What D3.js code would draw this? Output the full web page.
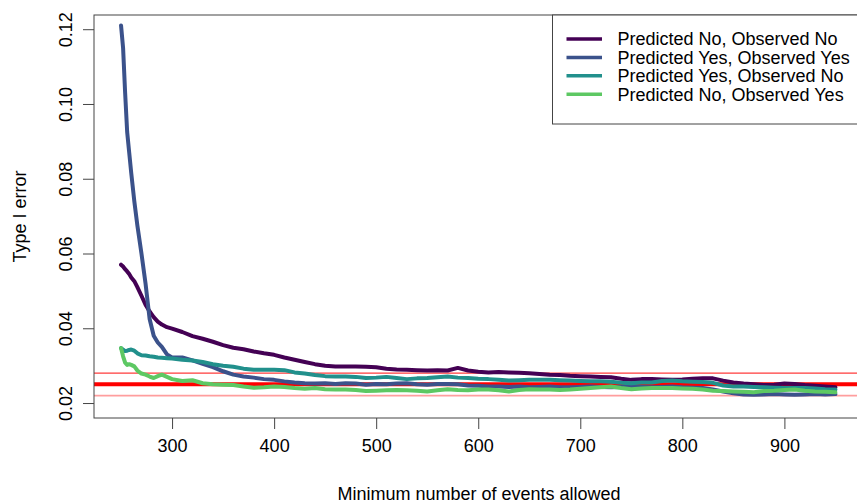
<!DOCTYPE html>
<html>
<head>
<meta charset="utf-8">
<script src="https://cdn.jsdelivr.net/npm/d3@7"></script>
<style>
  html, body { margin: 0; padding: 0; background: #fff; }
  svg { display: block; font-family: "Liberation Sans", Arial, sans-serif; }
</style>
</head>
<body>
<svg id="chart" width="857" height="503"></svg>
<script>
// Minimum number of events allowed (shared x grid)
const events = [250,252,254,256,258,260,263,266,270,274,278,282,286,290,295,300,
  310,320,330,340,350,360,370,380,390,400,410,420,430,440,450,460,470,480,490,500,
  510,520,530,540,550,560,570,580,590,600,610,620,630,640,650,660,670,680,690,700,
  710,720,730,740,750,760,770,780,790,800,810,820,830,840,850,860,870,880,890,900,
  910,920,930,940,950];

// Type I error per confusion-matrix cell
const predNoObsNo = [0.0570,0.0565,0.0558,0.0552,0.0545,0.0536,0.0526,0.0510,0.0487,0.0463,0.0445,0.0430,0.0418,0.0410,0.0403,0.0399,
  0.0390,0.0379,0.0372,0.0364,0.0355,0.0348,0.0344,0.0338,0.0333,0.0329,0.0322,0.0316,0.0310,0.0304,0.0300,0.0298,0.0298,0.0298,0.0297,0.0296,
  0.0292,0.0290,0.0289,0.0288,0.0287,0.0288,0.0287,0.0294,0.0287,0.0284,0.0282,0.0283,0.0282,0.0281,0.0280,0.0278,0.0276,0.0275,0.0273,0.0272,
  0.0271,0.0270,0.0269,0.0265,0.0262,0.0264,0.0264,0.0263,0.0262,0.0263,0.0265,0.0266,0.0266,0.0260,0.0255,0.0252,0.0250,0.0248,0.0249,0.0252,
  0.0251,0.0248,0.0246,0.0244,0.0242];

const predYesObsYes = [0.1210,0.1150,0.1030,0.0925,0.0870,0.0815,0.0740,0.0675,0.0600,0.0520,0.0425,0.0380,0.0362,0.0350,0.0330,0.0322,
  0.0322,0.0314,0.0305,0.0296,0.0285,0.0276,0.0271,0.0268,0.0264,0.0262,0.0258,0.0255,0.0253,0.0252,0.0253,0.0251,0.0253,0.0252,0.0249,0.0251,
  0.0250,0.0252,0.0253,0.0250,0.0249,0.0251,0.0251,0.0250,0.0247,0.0246,0.0244,0.0244,0.0243,0.0244,0.0242,0.0243,0.0244,0.0242,0.0242,0.0243,
  0.0244,0.0243,0.0242,0.0243,0.0244,0.0243,0.0242,0.0243,0.0244,0.0242,0.0241,0.0240,0.0236,0.0231,0.0226,0.0223,0.0222,0.0223,0.0224,0.0223,
  0.0222,0.0223,0.0224,0.0223,0.0224];

const predYesObsNo = [0.0347,0.0343,0.0339,0.0340,0.0342,0.0343,0.0340,0.0333,0.0328,0.0327,0.0325,0.0324,0.0322,0.0321,0.0320,0.0319,
  0.0316,0.0314,0.0310,0.0304,0.0300,0.0297,0.0292,0.0289,0.0289,0.0289,0.0288,0.0282,0.0279,0.0275,0.0272,0.0271,0.0271,0.0270,0.0267,0.0268,
  0.0270,0.0267,0.0264,0.0266,0.0267,0.0269,0.0271,0.0268,0.0267,0.0265,0.0264,0.0262,0.0260,0.0261,0.0262,0.0262,0.0262,0.0261,0.0260,0.0259,
  0.0258,0.0258,0.0257,0.0254,0.0253,0.0255,0.0255,0.0259,0.0260,0.0258,0.0257,0.0256,0.0254,0.0247,0.0244,0.0244,0.0243,0.0242,0.0241,0.0240,
  0.0240,0.0240,0.0239,0.0237,0.0236];

const predNoObsYes = [0.0347,0.0325,0.0308,0.0302,0.0304,0.0302,0.0298,0.0287,0.0279,0.0276,0.0271,0.0267,0.0272,0.0276,0.0270,0.0264,
  0.0259,0.0261,0.0253,0.0250,0.0249,0.0248,0.0244,0.0241,0.0242,0.0244,0.0243,0.0240,0.0238,0.0240,0.0237,0.0236,0.0236,0.0235,0.0232,0.0233,
  0.0234,0.0235,0.0234,0.0233,0.0231,0.0234,0.0237,0.0235,0.0234,0.0236,0.0236,0.0234,0.0231,0.0235,0.0237,0.0236,0.0236,0.0235,0.0236,0.0238,
  0.0240,0.0242,0.0244,0.0240,0.0237,0.0239,0.0240,0.0240,0.0240,0.0239,0.0238,0.0236,0.0233,0.0232,0.0231,0.0230,0.0229,0.0232,0.0233,0.0235,
  0.0236,0.0233,0.0231,0.0230,0.0229];

const seriesNames = ["Predicted No, Observed No", "Predicted Yes, Observed Yes",
                     "Predicted Yes, Observed No", "Predicted No, Observed Yes"];
const seriesValues = [predNoObsNo, predYesObsYes, predYesObsNo, predNoObsYes];
const seriesColors = ["#440154", "#3B528B", "#21908C", "#5DC863"];

const xTicks = [300, 400, 500, 600, 700, 800, 900];
const yTicks = [0.02, 0.04, 0.06, 0.08, 0.10, 0.12];

// Reference levels: nominal alpha and its band
const refLevels = [
  { value: 0.028, color: "#ff3b3b", width: 1.2 },
  { value: 0.022, color: "#ff9e9e", width: 1.8 },
  { value: 0.025, color: "#ff0000", width: 4 }
];

const svg = d3.select("#chart");
const plot = { left: 94, right: 864, top: 15, bottom: 418 };

const x = d3.scaleLinear().domain([223.5, 978]).range([plot.left, plot.right]);
const y = d3.scaleLinear().domain([0.016, 0.1238]).range([plot.bottom, plot.top]);

const fontSize = 18;
const axisColor = "#444";

// Reference lines across the full panel
svg.append("g").selectAll("line").data(refLevels).join("line")
  .attr("x1", plot.left).attr("x2", plot.right)
  .attr("y1", d => y(d.value)).attr("y2", d => y(d.value))
  .attr("stroke", d => d.color).attr("stroke-width", d => d.width);

// Curves
const line = d3.line().x(d => x(d[0])).y(d => y(d[1]));
svg.append("g").selectAll("path").data(seriesValues).join("path")
  .attr("d", vals => line(events.map((e, i) => [e, vals[i]])))
  .attr("fill", "none")
  .attr("stroke", (d, i) => seriesColors[i])
  .attr("stroke-width", 4)
  .attr("stroke-linejoin", "round")
  .attr("stroke-linecap", "round");

// Panel box
svg.append("rect")
  .attr("x", plot.left).attr("y", plot.top)
  .attr("width", plot.right - plot.left).attr("height", plot.bottom - plot.top)
  .attr("fill", "none").attr("stroke", axisColor).attr("stroke-width", 1);

// Bottom axis
const xAxis = d3.axisBottom(x).tickValues(xTicks).tickSize(11).tickPadding(10)
  .tickFormat(d3.format("d"));
const gx = svg.append("g").attr("transform", `translate(0,${plot.bottom})`).call(xAxis);
gx.select(".domain").remove();
gx.selectAll(".tick line").attr("stroke", axisColor);
gx.selectAll(".tick text").attr("font-size", fontSize).attr("fill", "#000")
  .attr("font-family", "Liberation Sans, Arial, sans-serif").attr("dy", "0.71em");

// Left axis with labels rotated parallel to the axis
const yAxis = d3.axisLeft(y).tickValues(yTicks).tickSize(11).tickFormat(d3.format(".2f"));
const gy = svg.append("g").attr("transform", `translate(${plot.left},0)`).call(yAxis);
gy.select(".domain").remove();
gy.selectAll(".tick line").attr("stroke", axisColor);
gy.selectAll(".tick text")
  .attr("font-size", fontSize).attr("fill", "#000")
  .attr("font-family", "Liberation Sans, Arial, sans-serif")
  .attr("text-anchor", "middle")
  .attr("x", null).attr("dy", null)
  .attr("transform", `translate(${71.5 - plot.left},0) rotate(-90)`);

// Axis titles
svg.append("text")
  .attr("x", (plot.left + plot.right) / 2).attr("y", 499.5)
  .attr("text-anchor", "middle").attr("font-size", fontSize)
  .text("Minimum number of events allowed");

svg.append("text")
  .attr("transform", `translate(25.5,${(plot.top + plot.bottom) / 2}) rotate(-90)`)
  .attr("text-anchor", "middle").attr("font-size", fontSize)
  .text("Type I error");

// Legend (top right)
const legend = svg.append("g");
legend.append("rect")
  .attr("x", 552.5).attr("y", plot.top)
  .attr("width", plot.right - 552.5).attr("height", 124 - plot.top)
  .attr("fill", "#fff").attr("stroke", axisColor).attr("stroke-width", 1);
const rows = legend.selectAll("g.row").data(seriesNames).join("g")
  .attr("class", "row")
  .attr("transform", (d, i) => `translate(0,${39 + i * 18.4})`);
rows.append("line")
  .attr("x1", 566.5).attr("x2", 602)
  .attr("stroke", (d, i) => seriesColors[i]).attr("stroke-width", 3.5);
rows.append("text")
  .attr("x", 617.5).attr("dy", "0.35em")
  .attr("font-size", fontSize)
  .text(d => d);
</script>
</body>
</html>
